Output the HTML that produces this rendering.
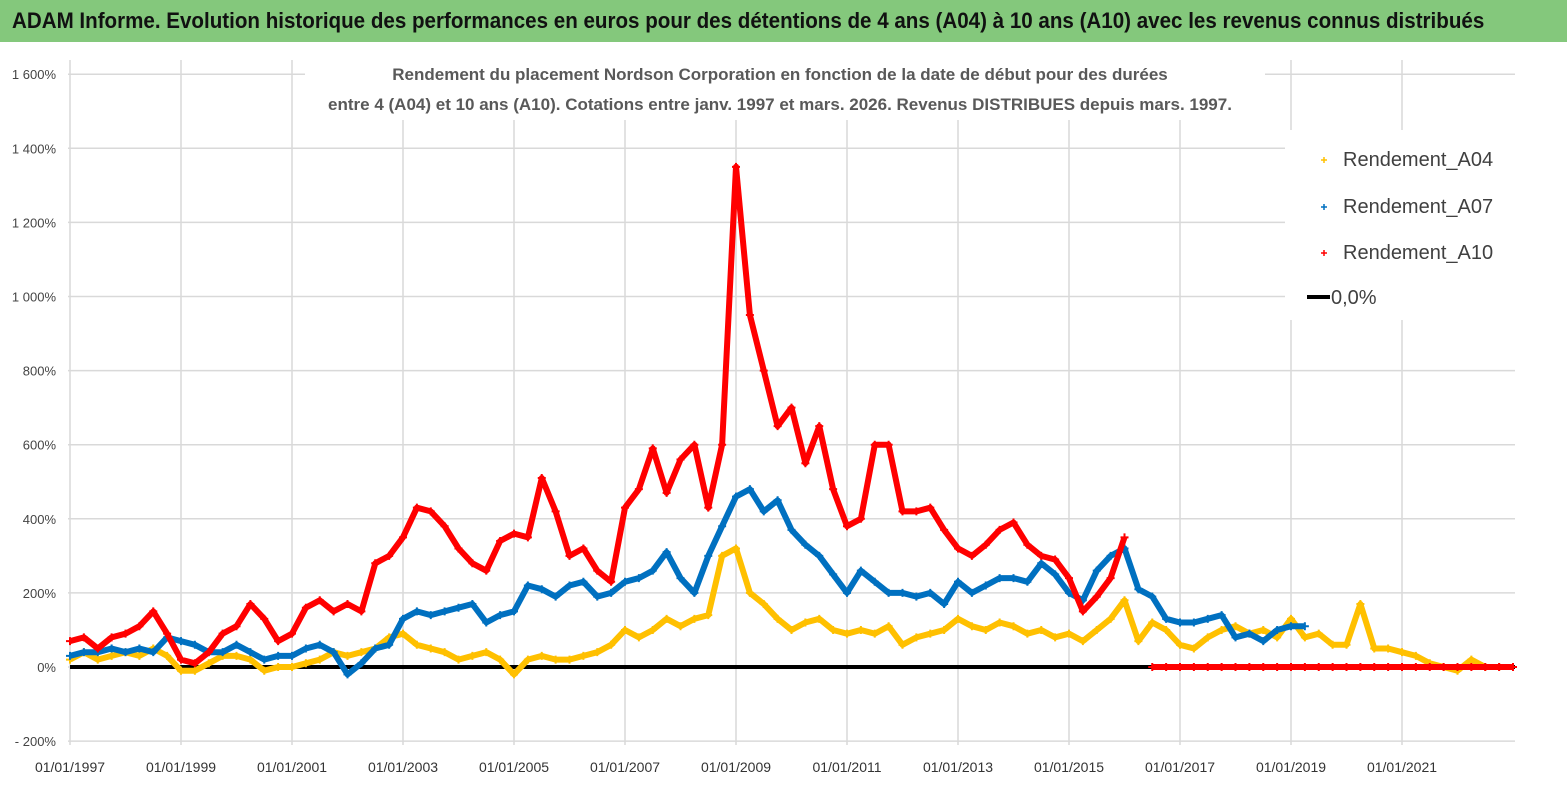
<!DOCTYPE html>
<html><head><meta charset="utf-8"><style>
body{margin:0;width:1567px;height:790px;background:#fff;overflow:hidden;font-family:"Liberation Sans",sans-serif}
#hdr{position:absolute;left:0;top:0;width:1567px;height:42px;background:#84c87c;box-sizing:border-box;overflow:hidden}
#hdr span{position:absolute;left:12px;top:0;color:#111;font-weight:bold;font-size:22px;line-height:42px;white-space:nowrap;transform:scaleX(0.935);transform-origin:0 0}
svg{position:absolute;left:0;top:0}
</style></head><body>
<div id="hdr"><span>ADAM Informe. Evolution historique des performances en euros pour des détentions de 4 ans (A04) à 10 ans (A10) avec les revenus connus distribués</span></div>
<svg id="chart" width="1567" height="790"></svg>
<script>
const xTickLabels=["01/01/1997","01/01/1999","01/01/2001","01/01/2003","01/01/2005","01/01/2007","01/01/2009","01/01/2011","01/01/2013","01/01/2015","01/01/2017","01/01/2019","01/01/2021"];
const yTicks=[-200,0,200,400,600,800,1000,1200,1400,1600];
const startYear=1997, step=0.25;
const a10=[70,80,50,80, 90,110,150,90, 20,10,40,90, 110,170,130,70, 90,160,180,150, 170,150,280,300, 350,430,420,380, 320,280,260,340, 360,350,510,420, 300,320,260,230, 430,480,590,470, 560,600,430,600, 1350,950,800,650, 700,550,650,480, 380,400,600,600, 420,420,430,370, 320,300,330,370, 390,330,300,290, 240,150,190,240, 350,null,0,0, 0,0,0,0, 0,0,0,0, 0,0,0,0, 0,0,0,0, 0,0,0,0, 0,0,0,0, 0];
const a07=[30,40,40,50, 40,50,40,80, 70,60,40,40, 60,40,20,30, 30,50,60,40, -20,10,50,60, 130,150,140,150, 160,170,120,140, 150,220,210,190, 220,230,190,200, 230,240,260,310, 240,200,300,380, 460,480,420,450, 370,330,300,250, 200,260,230,200, 200,190,200,170, 230,200,220,240, 240,230,280,250, 200,180,260,300, 320,210,190,130, 120,120,130,140, 80,90,70,100, 110,110];
const a04=[20,40,20,30, 40,30,50,30, -10,-10,10,30, 30,20,-10,0, 0,10,20,40, 30,40,50,80, 90,60,50,40, 20,30,40,20, -20,20,30,20, 20,30,40,60, 100,80,100,130, 110,130,140,300, 320,200,170,130, 100,120,130,100, 90,100,90,110, 60,80,90,100, 130,110,100,120, 110,90,100,80, 90,70,100,130, 180,70,120,100, 60,50,80,100, 110,90,100,80, 130,80,90,60, 60,170,50,50, 40,30,10,0, -10,20,0,0, 0];
const X=y=>70+(y-1997)*55.5, Y=v=>667-v*0.3705;
const NS="http://www.w3.org/2000/svg", svg=document.getElementById('chart');
function mk(t,a,p){const e=document.createElementNS(NS,t);for(const k in a)e.setAttribute(k,a[k]);(p||svg).appendChild(e);return e;}
yTicks.forEach(v=>{const l=mk('line',{x1:68,x2:1515,y1:Y(v),y2:Y(v),stroke:'#d9d9d9','stroke-width':1.5});


const t=mk('text',{x:56,y:Y(v)+5,'text-anchor':'end','font-size':13,fill:'#444'});t.textContent=(v<0?'- ':'')+(Math.abs(v)>=1000?Math.floor(Math.abs(v)/1000)+' '+String(Math.abs(v)%1000).padStart(3,'0'):Math.abs(v))+'%';

});
xTickLabels.forEach((s,i)=>{const x=X(1997+2*i);const l=mk('line',{x1:x,x2:x,y1:60,y2:745,stroke:'#d9d9d9','stroke-width':1.5});


const t=mk('text',{x:x,y:772,'text-anchor':'middle','font-size':14,fill:'#333'});t.textContent=s;

});
const z=mk('line',{x1:70,x2:1515,y1:Y(0),y2:Y(0),stroke:'#000','stroke-width':4});


function series(arr,col,name,w){const g=mk('g',{});


let segs=[[]];
arr.forEach((v,i)=>{if(v===null){segs.push([]);return;}segs[segs.length-1].push(X(startYear+i*step).toFixed(1)+','+Y(v).toFixed(1));});
segs.forEach(s=>{if(s.length)mk('polyline',{points:s.join(' '),fill:'none',stroke:col,'stroke-width':w,'stroke-linejoin':'round'},g);});
arr.forEach((v,i)=>{if(v===null)return;const x=X(startYear+i*step),y=Y(v);const p=mk('path',{d:`M${x-4},${y}h8M${x},${y-4}v8`,stroke:col,'stroke-width':2},g);

});}
series(a04,'#ffc000','series-a04',6);
series(a07,'#0070c0','series-a07',6);
series(a10,'#ff0000','series-a10',6);
const tb=mk('rect',{x:305,y:58,width:960,height:62,fill:'#fff'});


[["Rendement du placement Nordson Corporation en fonction de la date de début pour des durées",80],["entre 4 (A04) et 10 ans (A10). Cotations entre janv. 1997 et mars. 2026. Revenus DISTRIBUES depuis mars. 1997.",110]].forEach(([s,y])=>{const t=mk('text',{x:780,y:y,'text-anchor':'middle','font-size':17,'font-weight':'bold',fill:'#595959'});t.textContent=s;

});
const lg=mk('g',{});


mk('rect',{x:1285,y:130,width:270,height:190,fill:'#fff'},lg);
[["Rendement_A04",'#ffc000',166],["Rendement_A07",'#0070c0',213],["Rendement_A10",'#ff0000',259]].forEach(([s,c,y])=>{
mk('path',{d:`M1321,${y-6}h6M1324,${y-9}v6`,stroke:c,'stroke-width':1.5},lg);
const t=mk('text',{x:1343,y:y,'font-size':20,fill:'#404040'},lg);t.textContent=s;

});
mk('line',{x1:1307,x2:1330,y1:297,y2:297,stroke:'#000','stroke-width':4},lg);
const t0=mk('text',{x:1331,y:304,'font-size':20,fill:'#404040'},lg);t0.textContent='0,0%';


</script>
</body></html>
